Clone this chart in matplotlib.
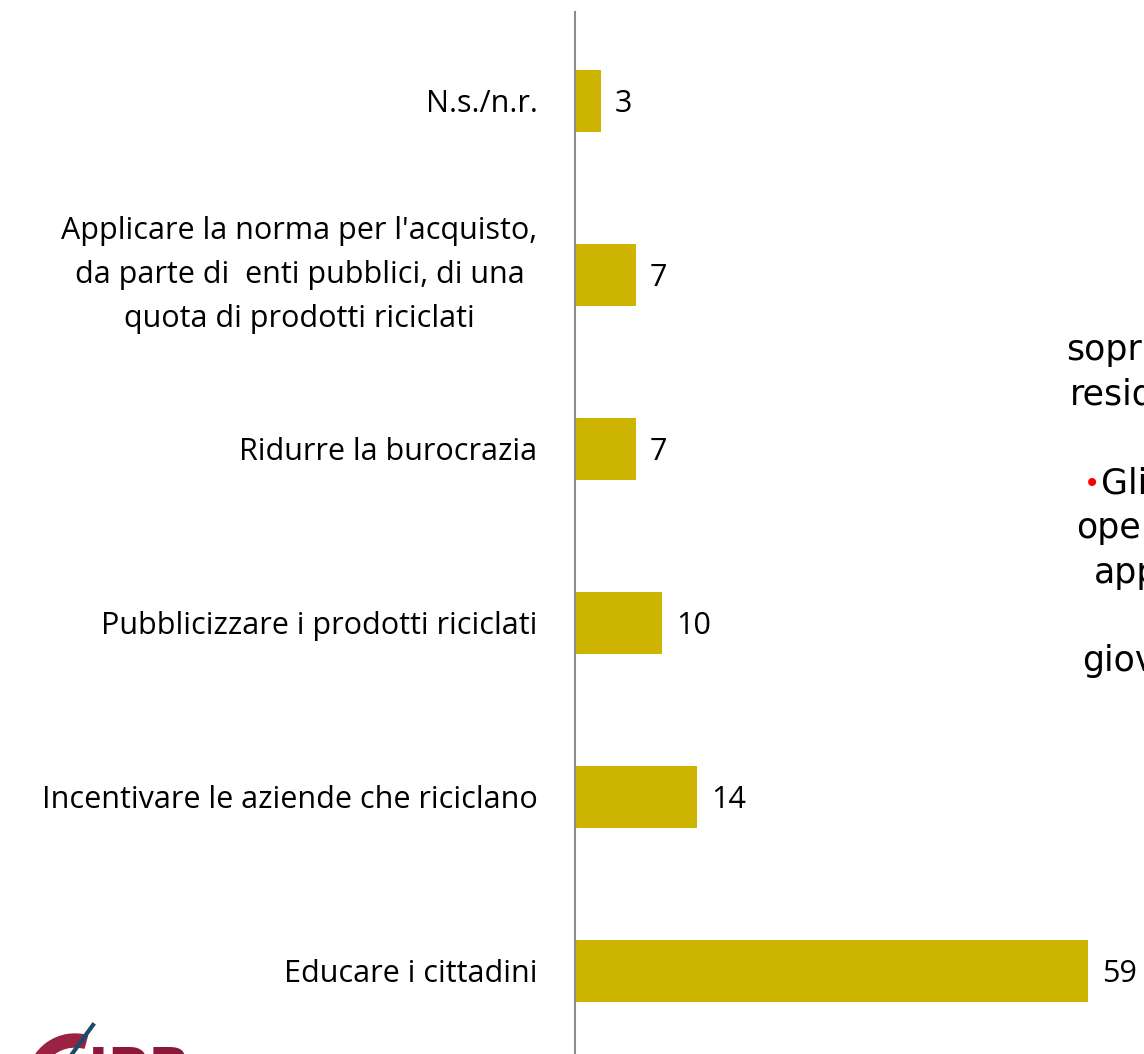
import matplotlib.pyplot as plt
from matplotlib.patches import Wedge

categories = ['Educare i cittadini',
              'Incentivare le aziende che riciclano',
              'Pubblicizzare i prodotti riciclati',
              'Ridurre la burocrazia',
              "Applicare la norma per l'acquisto,\nda parte di  enti pubblici, di una\nquota di prodotti riciclati",
              'N.s./n.r.']
values = [59, 14, 10, 7, 7, 3]

side_lines = ['sopr', 'resid', '', 'Gli', 'ope', 'app', '', 'giov']
side_x = [1066, 1070, None, 1101, 1076, 1094, None, 1082]

W, H = 1144, 1054
fig = plt.figure(figsize=(W / 100, H / 100), dpi=100)

# axes: left edge on the vertical line, top at 12 px, bottom at the edge
ax = fig.add_axes([575 / W, 0, 1 - 575 / W, (H - 12) / H])
ax.barh(range(len(values)), values, height=0.36, color='#CCB400')
ax.set_xlim(0, (W - 575) / 8.7)
ax.set_ylim(-0.477, 5.511)

for i, v in enumerate(values):
    ax.text(v + 1.6, i - 0.015, str(v), va='center', ha='left', fontsize=22,
            family='Open Sans', color='black')

ax.set_yticks(range(len(categories)))
ax.set_yticklabels(categories, fontsize=22, family='Open Sans', linespacing=1.6)
ax.tick_params(axis='y', length=0, pad=27)
ax.set_xticks([])
for loc, spine in ax.spines.items():
    if loc == 'left':
        spine.set_color('#8C8C8C')
        spine.set_linewidth(1.5)
    else:
        spine.set_visible(False)
for lab in ax.get_yticklabels():
    lab.set_horizontalalignment('right')
    lab.set_multialignment('center')
    if '\n' in lab.get_text():
        lab.set_verticalalignment('center')

# cut-off text box on the right
y0, step = 350, 44.5
for k, (txt, x) in enumerate(zip(side_lines, side_x)):
    if not txt:
        continue
    y = y0 + k * step
    fig.text(x / W, 1 - y / H, txt, fontsize=25, family='DejaVu Sans',
             va='center', ha='left')
fig.text(1084 / W, 1 - (y0 + 3 * step) / H, '\u2022', fontsize=20, color='red',
         family='DejaVu Sans', va='center', ha='left')

# logo fragment, bottom left
fig.patches.append(Wedge((75, -28), 48, 75, 175, width=13, color='#9B2342',
                         transform=None, figure=fig))
fig.text(88 / W, 1 - 1045 / H, 'IPR', fontsize=40, fontweight='bold',
         color='#8B1A3A', va='top', ha='left')
fig.add_artist(plt.Line2D([72 / W, 93 / W], [0, 1 - 1025 / H],
                          color='#1B4A6B', lw=3))

fig.savefig('out.png', dpi=100)
